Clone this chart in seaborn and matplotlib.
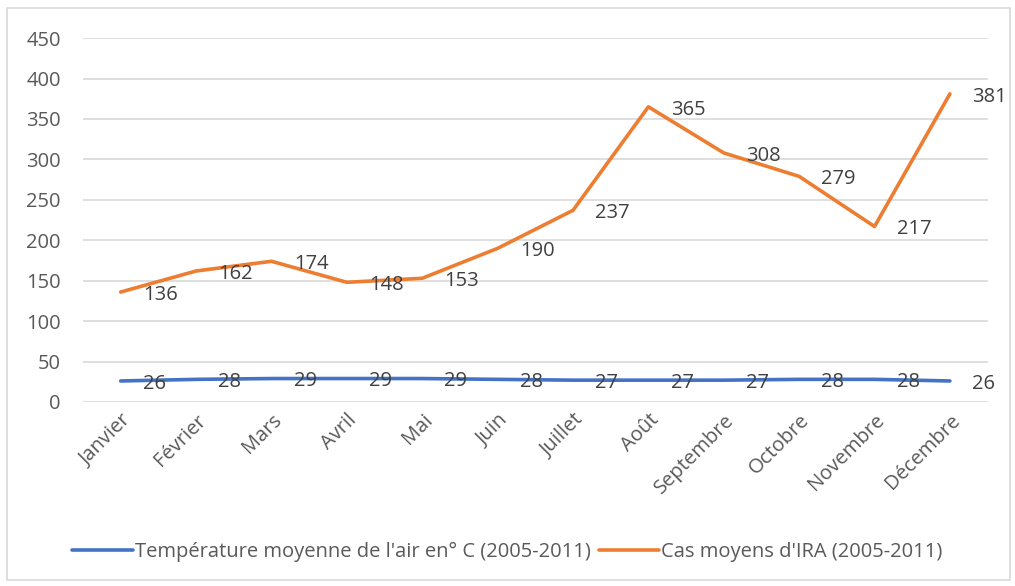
import pandas as pd
import matplotlib.pyplot as plt
import seaborn as sns
from matplotlib.patches import Rectangle

# Data
months = ["Janvier", "Février", "Mars", "Avril", "Mai", "Juin", "Juillet",
          "Août", "Septembre", "Octobre", "Novembre", "Décembre"]
temperature = [26, 28, 29, 29, 29, 28, 27, 27, 27, 28, 28, 26]
ira_cases = [136, 162, 174, 148, 153, 190, 237, 365, 308, 279, 217, 381]

temp_label = "Température moyenne de l'air en° C (2005-2011)"
ira_label = "Cas moyens d'IRA (2005-2011)"

df = pd.DataFrame({
    "mois": months * 2,
    "x": list(range(len(months))) * 2,
    "valeur": temperature + ira_cases,
    "serie": [temp_label] * len(months) + [ira_label] * len(months),
})

sns.set_theme(style="white")
plt.rcParams["font.family"] = ["Open Sans", "DejaVu Sans"]

fig = plt.figure(figsize=(10.15, 5.86), dpi=100)
ax = fig.add_axes([0.0818, 0.314, 0.973 - 0.0818, 0.935 - 0.314])

palette = {temp_label: "#4472C4", ira_label: "#ED7D31"}
sns.lineplot(data=df, x="x", y="valeur", hue="serie", palette=palette,
             linewidth=2.6, ax=ax, legend=False, sort=False)

# data labels, to the right of each point
for series in [temperature, ira_cases]:
    for i, v in enumerate(series):
        ax.annotate(str(v), (i, v), xytext=(16, -2), textcoords="offset points",
                    ha="left", va="center", fontsize=14.5, color="#404040")

ax.set_xlim(-0.5, len(months) - 0.5)
ax.set_ylim(0, 450)
ax.set_yticks(range(0, 451, 50))
ax.set_xticks(range(len(months)))
ax.set_xticklabels(months, rotation=45, ha="right", rotation_mode="anchor")
ax.tick_params(axis="both", labelsize=14.5, labelcolor="#595959", length=0)
ax.tick_params(axis="y", pad=16)
ax.tick_params(axis="x", pad=6)
ax.set_xlabel("")
ax.set_ylabel("")
ax.yaxis.grid(True, color="#D9D9D9", linewidth=1.2)
ax.set_axisbelow(True)
for s in ax.spines.values():
    s.set_visible(False)

handles = [plt.Line2D([], [], color=palette[temp_label], linewidth=2.6),
           plt.Line2D([], [], color=palette[ira_label], linewidth=2.6)]
fig.legend(handles, [temp_label, ira_label], loc="center", ncol=2,
           bbox_to_anchor=(0.5, 1 - 552 / 586), frameon=False,
           fontsize=14.5, labelcolor="#595959", handlelength=3.0,
           handletextpad=0.1, columnspacing=0.4)

fig.add_artist(Rectangle((7 / 1015, 6 / 586), 1003 / 1015, 572 / 586,
                         transform=fig.transFigure, fill=False,
                         edgecolor="#D9D9D9", linewidth=1.2))

fig.savefig("out.png", dpi=100)
